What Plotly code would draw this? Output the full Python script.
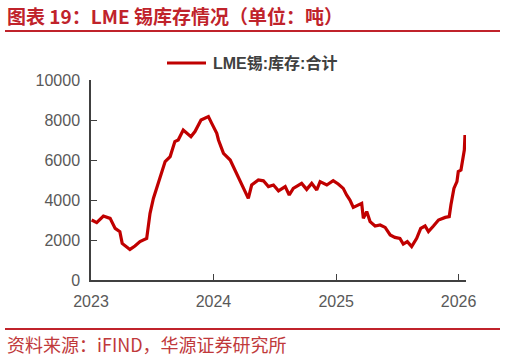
import plotly.graph_objects as go

dates = [
    "2023-01-03", "2023-01-18", "2023-02-07", "2023-02-27", "2023-03-14", "2023-03-28",
    "2023-04-04", "2023-04-17", "2023-04-27", "2023-05-12", "2023-05-27", "2023-06-16",
    "2023-06-26", "2023-07-06", "2023-07-21", "2023-08-10", "2023-08-25", "2023-09-08",
    "2023-09-18", "2023-10-03", "2023-10-26", "2023-11-07", "2023-11-25", "2023-12-07",
    "2023-12-17", "2023-12-27", "2024-01-11", "2024-01-16", "2024-01-31", "2024-02-20",
    "2024-03-10", "2024-03-25", "2024-04-14", "2024-04-24", "2024-05-14", "2024-05-29",
    "2024-06-13", "2024-06-28", "2024-07-13", "2024-08-02", "2024-08-14", "2024-08-26",
    "2024-09-20", "2024-10-05", "2024-10-20", "2024-11-04", "2024-11-14", "2024-12-04",
    "2024-12-23", "2025-01-07", "2025-01-22", "2025-02-01", "2025-02-11", "2025-02-21",
    "2025-03-08", "2025-03-18", "2025-03-23", "2025-04-02", "2025-04-12", "2025-04-27",
    "2025-05-12", "2025-05-27", "2025-06-11", "2025-06-25", "2025-07-10", "2025-07-20",
    "2025-08-01", "2025-08-14", "2025-08-29", "2025-09-10", "2025-09-23", "2025-10-03",
    "2025-10-18", "2025-11-02", "2025-11-22", "2025-12-04", "2025-12-09", "2025-12-18",
    "2025-12-27", "2025-12-31", "2026-01-08", "2026-01-13", "2026-01-18", "2026-01-20",
]
inventory = [
    3000, 2870, 3200, 3080, 2580, 2420,
    1830, 1670, 1530, 1700, 1920, 2080,
    3330, 4080, 4830, 5920, 6170, 6920,
    7000, 7500, 7170, 7420, 8000, 8080,
    8170, 7830, 7330, 7000, 6330, 6000,
    5330, 4830, 4080, 4750, 5000, 4960,
    4670, 4750, 4460, 4670, 4250, 4580,
    4830, 4530, 4830, 4500, 4920, 4750,
    4970, 4800, 4580, 4250, 4000, 3630,
    3750, 3830, 3080, 3420, 2920, 2700,
    2750, 2630, 2250, 2130, 2080, 1800,
    1920, 1670, 2080, 2580, 2700, 2420,
    2700, 3000, 3130, 3170, 3750, 4580,
    4920, 5420, 5500, 5920, 6500, 7250,
]
series_name = "LME锡:库存:合计"
y_ticks = [0, 2000, 4000, 6000, 8000, 10000]
y_tick_labels = ["0", "2000", "4000", "6000", "8000", "10000"]
x_ticks = ["2023-01-01", "2024-01-01", "2025-01-01", "2026-01-01"]
x_tick_labels = ["2023", "2024", "2025", "2026"]
title_text = "图表 19：LME 锡库存情况（单位：吨）"
source_text = "资料来源：iFIND，华源证券研究所"

W, H = 506, 362
L, R, T, B = 91, 40, 80, 82
pw, ph = W - L - R, H - T - B

def px_x(p):
    return (p - L) / pw

def px_y(p):
    return (H - B - p) / ph

RED = "#C00000"
DARK_RED = "#C0232B"
AX = "#404040"
TICKFONT = dict(family="Arial, Liberation Sans", size=16, color="#595959")

fig = go.Figure()
fig.add_trace(go.Scatter(
    x=dates, y=inventory, mode="lines", name=series_name,
    line=dict(color=RED, width=3.2), showlegend=False, hoverinfo="skip",
))

fig.update_layout(
    width=W, height=H,
    margin=dict(l=L, r=R, t=T, b=B, autoexpand=False),
    paper_bgcolor="white", plot_bgcolor="white",
    showlegend=False,
    xaxis=dict(
        type="date", range=["2023-01-01", "2026-01-23"],
        tickvals=x_ticks, ticktext=x_tick_labels,
        ticks="inside", ticklen=6, tickcolor=AX, tickwidth=1.3,
        showline=True, linecolor=AX, linewidth=1.5,
        showgrid=False, zeroline=False, automargin=False,
        tickfont=TICKFONT, ticklabelstandoff=6,
    ),
    yaxis=dict(
        range=[0, 10000], tickvals=y_ticks, ticktext=y_tick_labels,
        ticks="inside", ticklen=6, tickcolor=AX, tickwidth=1.3,
        showline=True, linecolor=AX, linewidth=1.5,
        showgrid=False, zeroline=False, automargin=False,
        tickfont=TICKFONT, ticklabelstandoff=6,
    ),
    shapes=[
        dict(type="line", xref="paper", yref="paper", x0=px_x(5), x1=px_x(500), y0=px_y(31), y1=px_y(31),
             line=dict(color=DARK_RED, width=2)),
        dict(type="line", xref="paper", yref="paper", x0=px_x(5), x1=px_x(500), y0=px_y(329), y1=px_y(329),
             line=dict(color=DARK_RED, width=2)),
        # legend swatch
        dict(type="line", xref="paper", yref="paper", x0=px_x(167), x1=px_x(206), y0=px_y(63), y1=px_y(63),
             line=dict(color=RED, width=3)),
    ],
    annotations=[
        dict(text=title_text, xref="paper", yref="paper", x=px_x(5), y=px_y(16),
             xanchor="left", yanchor="middle", showarrow=False,
             font=dict(family="Noto Sans CJK SC", size=19, color=DARK_RED, weight="bold")),
        dict(text=series_name, xref="paper", yref="paper", x=px_x(211), y=px_y(63),
             xanchor="left", yanchor="middle", showarrow=False,
             font=dict(family="Arial, Liberation Sans, Noto Sans CJK SC", size=16, color=AX, weight="bold")),
        dict(text=source_text, xref="paper", yref="paper", x=px_x(5), y=px_y(344),
             xanchor="left", yanchor="middle", showarrow=False,
             font=dict(family="Noto Sans CJK SC", size=18, color="#C0393B")),
    ],
)

fig.write_html(
    "out.html",
    config={"displayModeBar": False},
    post_script="document.body.style.margin='0';document.body.style.overflow='hidden';",
)
